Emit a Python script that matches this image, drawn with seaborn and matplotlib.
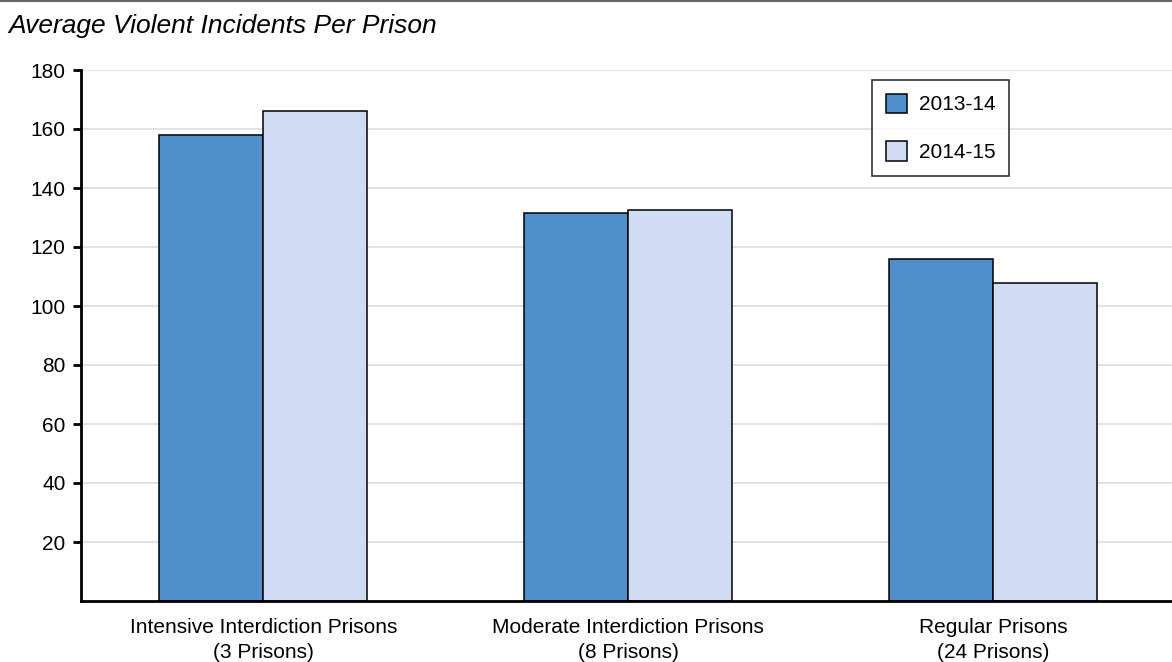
import matplotlib
matplotlib.use("Agg")
import matplotlib.pyplot as plt
import seaborn as sns
import pandas as pd
from matplotlib.lines import Line2D

categories = ["Intensive Interdiction Prisons\n(3 Prisons)",
              "Moderate Interdiction Prisons\n(8 Prisons)",
              "Regular Prisons\n(24 Prisons)"]
years = ["2013-14", "2014-15"]
values_2013_14 = [157.8, 131.6, 116.0]
values_2014_15 = [166.0, 132.5, 107.8]
y_ticks = [20, 40, 60, 80, 100, 120, 140, 160, 180]

df = pd.DataFrame({
    "category": categories * 2,
    "year": [years[0]] * 3 + [years[1]] * 3,
    "value": values_2013_14 + values_2014_15,
})

sns.set_style("white")
plt.rcParams["font.family"] = ["Liberation Sans", "DejaVu Sans"]
plt.rcParams["text.color"] = "black"
plt.rcParams["xtick.color"] = "black"
plt.rcParams["ytick.color"] = "black"
plt.rcParams["xtick.labelcolor"] = "black"
plt.rcParams["ytick.labelcolor"] = "black"

fig = plt.figure(figsize=(11.72, 6.62), dpi=100)
ax = fig.add_axes([81 / 1172, 1 - 601 / 662, (1172 - 81) / 1172, 531 / 662])

palette = {"2013-14": "#4f8fcb", "2014-15": "#cfdcf1"}
sns.barplot(data=df, x="category", y="value", hue="year", palette=palette,
            width=0.57, edgecolor="black", linewidth=1.1, saturation=1,
            ax=ax, zorder=3)

ax.set_ylim(0, 180)
ax.set_xlim(-0.5, 2.49)
ax.set_yticks(y_ticks)
ax.set_yticklabels([str(t) for t in y_ticks], fontsize=15)
ax.tick_params(axis="y", left=True, direction="out", length=6, width=2,
               color="black", pad=5)
ax.tick_params(axis="x", bottom=False, length=0, labelsize=15, pad=12)
for lbl in ax.get_xticklabels():
    lbl.set_linespacing(1.45)
ax.yaxis.grid(True, color="#dddddd", linewidth=1.2, zorder=0)
ax.set_axisbelow(True)
ax.set_xlabel("")
ax.set_ylabel("")
for side in ["top", "right"]:
    ax.spines[side].set_visible(False)
for side in ["left", "bottom"]:
    ax.spines[side].set_color("black")
    ax.spines[side].set_linewidth(2)
    ax.spines[side].set_zorder(5)

leg = ax.legend(loc="upper left", bbox_to_anchor=((872 - 81) / 1091, (601 - 80) / 531),
                frameon=True, fancybox=False, fontsize=15, handlelength=1.05,
                handleheight=1.05, labelspacing=1.3, borderpad=0.65, handletextpad=0.55,
                borderaxespad=0)
leg.get_frame().set_edgecolor("black")
leg.get_frame().set_linewidth(1.2)
for patch in leg.get_patches():
    patch.set_edgecolor("black")

fig.text(8 / 1172, 1 - 33 / 662, "Average Violent Incidents Per Prison",
         fontsize=19, style="italic", va="baseline", ha="left")
fig.add_artist(Line2D([0, 1], [1 - 0.5 / 662, 1 - 0.5 / 662],
                      transform=fig.transFigure, color="#666666", linewidth=1.5))

fig.savefig("out.png", dpi=100)
